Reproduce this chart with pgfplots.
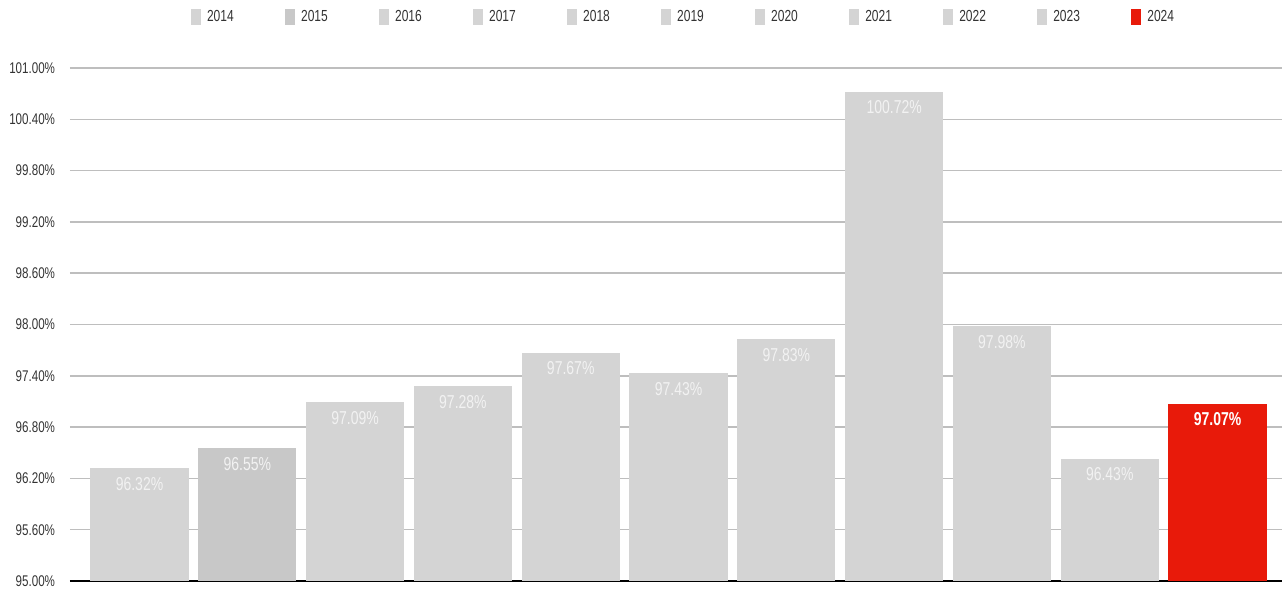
\documentclass[border=0pt]{standalone}
\usepackage{fontspec}
\setmainfont{Liberation Sans}[FakeStretch=0.75]
\usepackage{pgfplots}
\pgfplotsset{compat=1.18}
\definecolor{bargray}{HTML}{D4D4D4}
\definecolor{bargrayb}{HTML}{C8C8C8}
\definecolor{barred}{HTML}{E81A0A}
\definecolor{labgray}{HTML}{F2F2F2}
\definecolor{txtgray}{HTML}{333333}
\definecolor{gridgray}{HTML}{BEBEBE}
\begin{document}
\begin{tikzpicture}
\useasboundingbox (-52.5pt,-9pt) rectangle (909pt,435.75pt);
\begin{axis}[
  scale only axis,
  width=909pt, height=384.75pt,
  at={(0pt,0pt)}, anchor=south west,
  ybar, bar width=0.91,
  xmin=-0.645, xmax=10.598,
  ymin=95, ymax=101,
  xtick=\empty,
  ytick={95,95.6,96.2,96.8,97.4,98,98.6,99.2,99.8,100.4,101},
  /pgf/number format/assume math mode=true,
  yticklabel={\pgfmathprintnumber[fixed,fixed zerofill,precision=2]{\tick}\%},
  yticklabel style={anchor=east, inner sep=0pt, xshift=-11pt, text=txtgray, font=\fontsize{11.6}{13}\selectfont},
  major tick length=0pt,
  ymajorgrids,
  grid style={gridgray, line width=1.1pt},
  axis x line*=bottom, axis y line*=left,
  x axis line style={black, line width=1.2pt},
  y axis line style={draw=none},
  nodes near coords={\pgfmathprintnumber[fixed,fixed zerofill,precision=2]{\pgfplotspointmeta}\%},
  nodes near coords align=below,
  every node near coord/.append style={anchor=north, inner sep=0pt, yshift=-6.5pt, text=labgray, font=\fontsize{14}{16}\selectfont},
  legend columns=11,
  legend image code/.code={\fill[#1] (0pt,-5.8pt) rectangle (7.5pt,5.8pt);},
  legend style={at={(0.5054,1.0994)}, anchor=center, draw=none, fill=none,
    text=txtgray, font=\fontsize{12}{14}\selectfont,
    nodes={inner sep=0pt},
    /tikz/every odd column/.append style={column sep=4.5pt},
    /tikz/every even column/.append style={column sep=38.5pt}},
]
\addplot[fill=bargray, draw=none, bar shift=0pt] coordinates {(0,96.32)};
\addplot[fill=bargrayb, draw=none, bar shift=0pt] coordinates {(1,96.55)};
\addplot[fill=bargray, draw=none, bar shift=0pt] coordinates {(2,97.09)};
\addplot[fill=bargray, draw=none, bar shift=0pt] coordinates {(3,97.28)};
\addplot[fill=bargray, draw=none, bar shift=0pt] coordinates {(4,97.67)};
\addplot[fill=bargray, draw=none, bar shift=0pt] coordinates {(5,97.43)};
\addplot[fill=bargray, draw=none, bar shift=0pt] coordinates {(6,97.83)};
\addplot[fill=bargray, draw=none, bar shift=0pt] coordinates {(7,100.72)};
\addplot[fill=bargray, draw=none, bar shift=0pt] coordinates {(8,97.98)};
\addplot[fill=bargray, draw=none, bar shift=0pt] coordinates {(9,96.43)};
\addplot[fill=barred, draw=none, bar shift=0pt, every node near coord/.append style={text=white, font=\fontsize{14}{16}\selectfont\bfseries}] coordinates {(10,97.07)};
\legend{2014,2015,2016,2017,2018,2019,2020,2021,2022,2023,2024}
\end{axis}
\end{tikzpicture}
\end{document}
